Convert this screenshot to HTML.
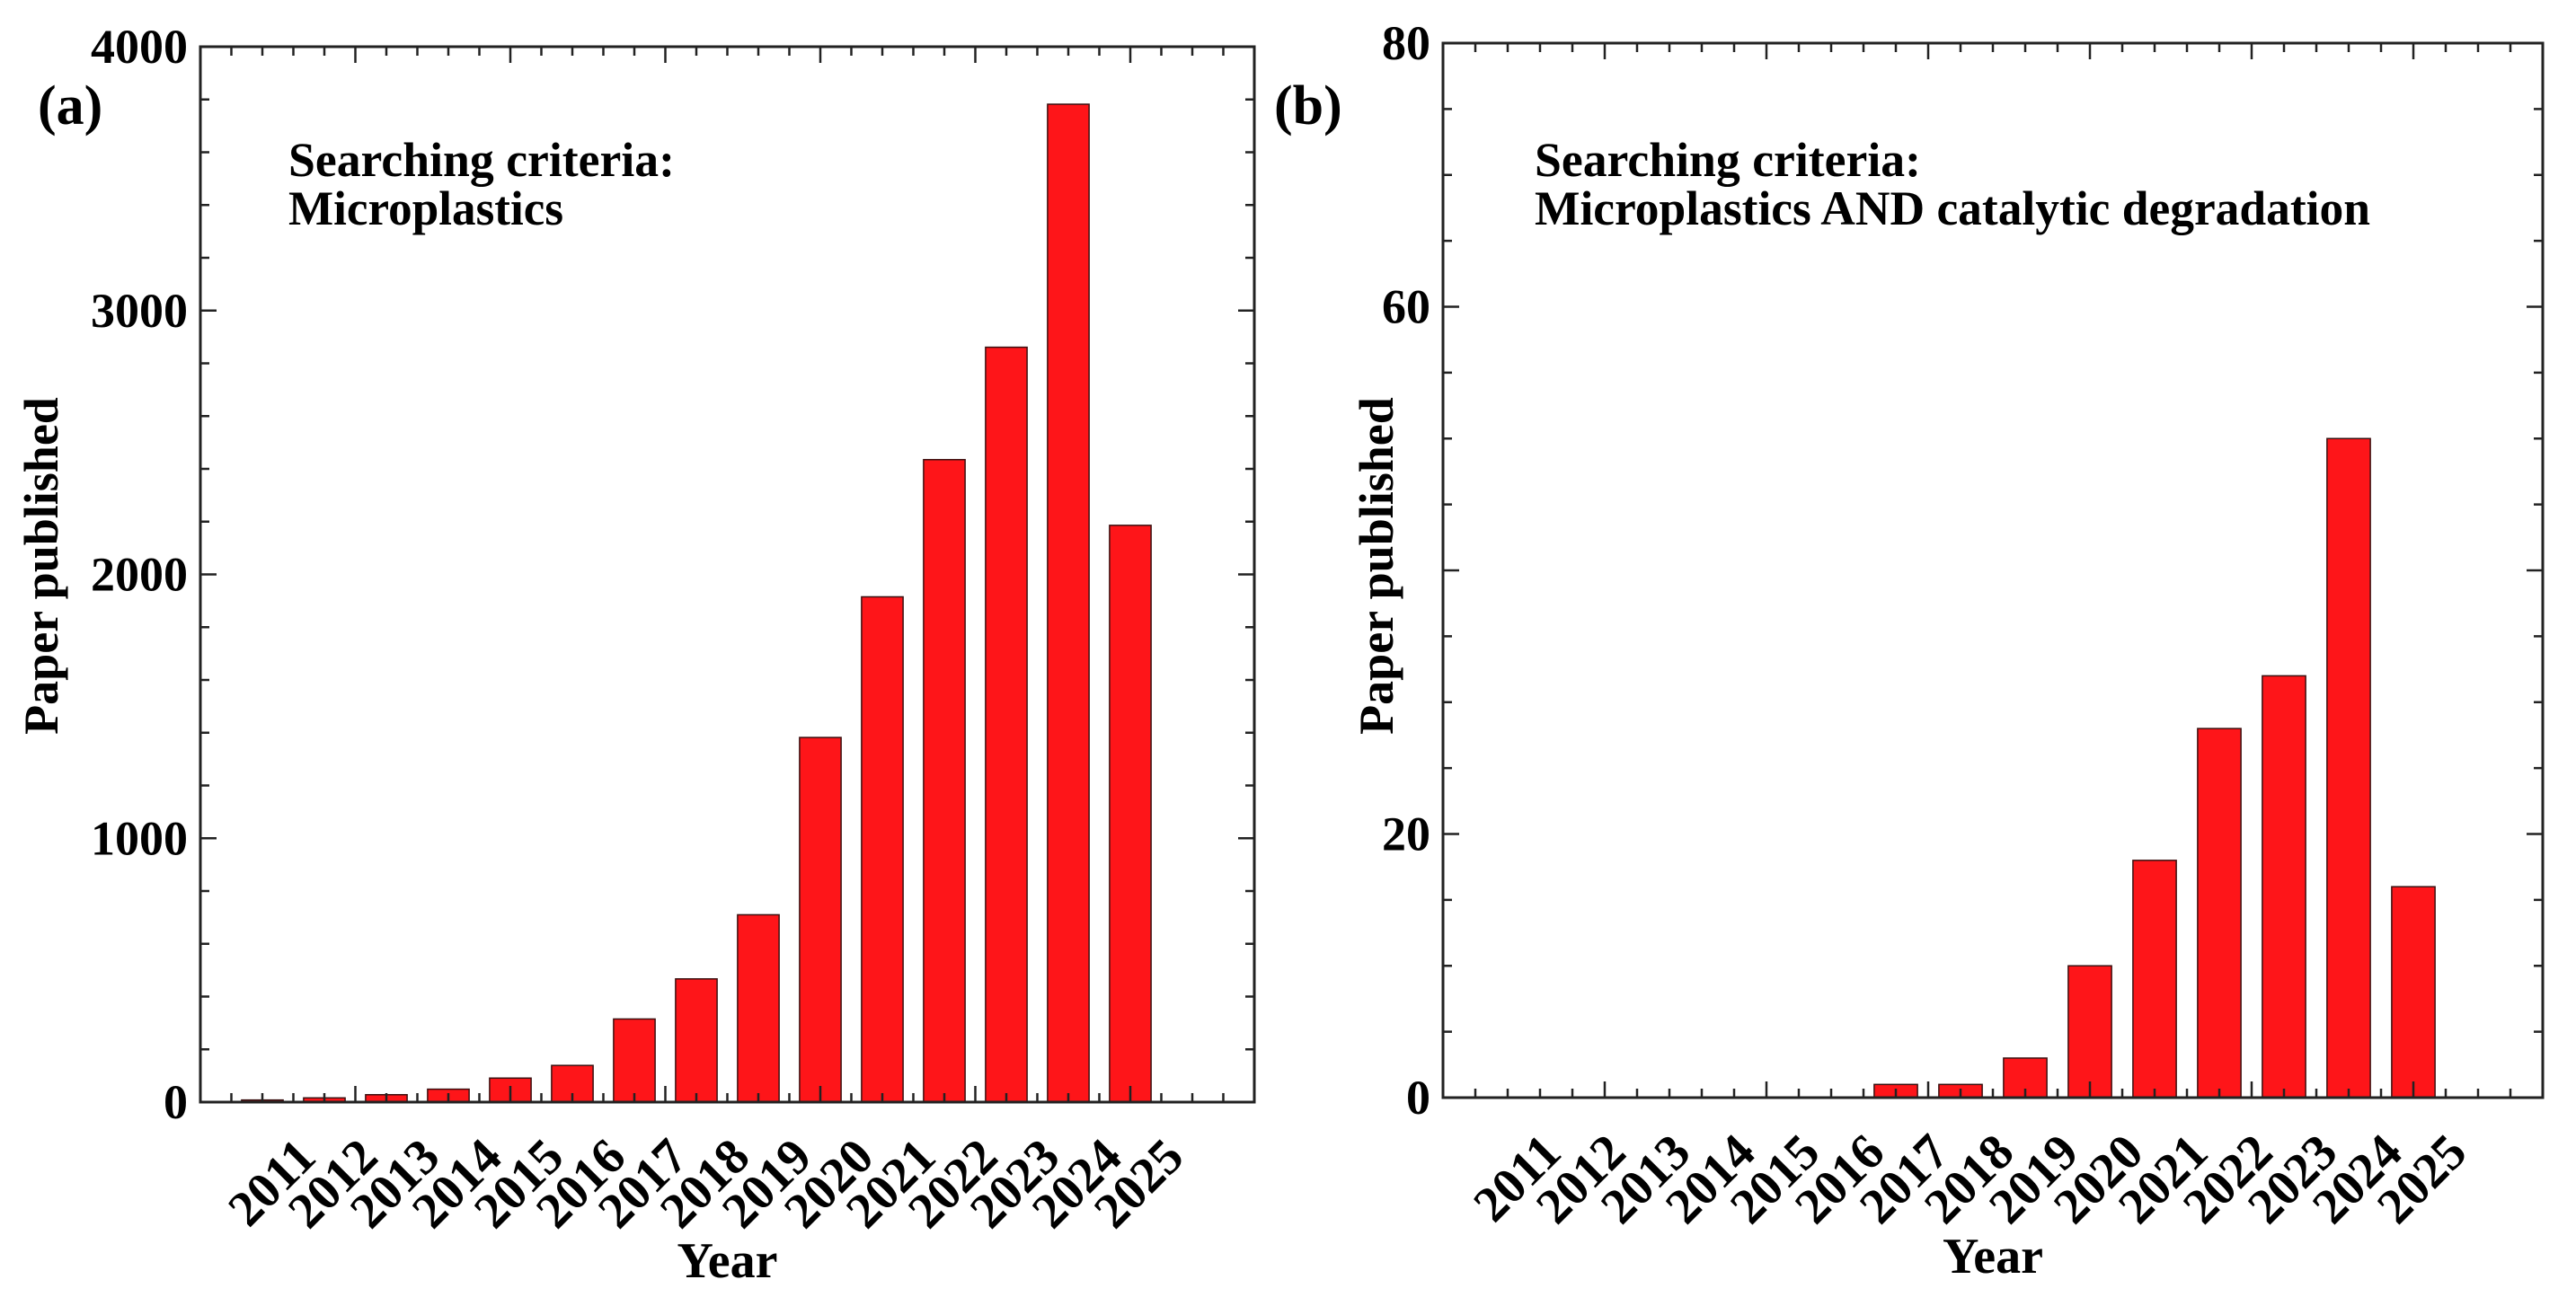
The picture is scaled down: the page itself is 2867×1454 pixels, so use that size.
<!DOCTYPE html>
<html><head><meta charset="utf-8"><style>
html,body{margin:0;padding:0;background:#fff;}
svg{display:block;}
text{font-family:"Liberation Serif",serif;font-weight:bold;fill:#000;}
</style></head><body>
<svg id="fig" width="2867" height="1454" viewBox="0 0 2867 1454" xmlns="http://www.w3.org/2000/svg"></svg>
<script>
const years = ["2011","2012","2013","2014","2015","2016","2017","2018","2019","2020","2021","2022","2023","2024","2025"];
const papersA = [8,16,28,49,91,139,315,467,710,1382,1915,2435,2861,3782,2186];
const papersB = [0,0,0,0,0,0,1,1,3,10,18,28,32,50,16];
const yTicksA = [0,1000,2000,3000,4000];
const yTicksB = [0,20,60,80];

const NS = "http://www.w3.org/2000/svg";
const svg = document.getElementById('fig');
function mk(tag, attrs, parent){const e=document.createElementNS(NS,tag);for(const k in attrs)e.setAttribute(k,attrs[k]);(parent||svg).appendChild(e);return e;}

function panel(cfg){
  const g = mk('g',{});
  
  
  const L=cfg.left,R=cfg.right,T=cfg.top,B=cfg.bottom;
  const xs = v => L + (R-L)*v/17;
  const ys = v => B - (B-T)*v/cfg.ymax;
  const bw = (R-L)/17*0.67;
  cfg.data.forEach((v,i)=>{
    const cx = xs(i+1);
    const r = mk('rect',{x:cx-bw/2,y:ys(v),width:bw,height:Math.max(B-ys(v),0),fill:'#fe1519',stroke:'#3a1010','stroke-width':1.5},g);
    
    
  });
  for(let k=0;k<=34;k++){
    const x = xs(k*0.5); const major = (k%5===0); const len = major?18:10;
    mk('line',{x1:x,y1:B,x2:x,y2:B-len,stroke:'#222','stroke-width':2.5},g);
    mk('line',{x1:x,y1:T,x2:x,y2:T+len,stroke:'#222','stroke-width':2.5},g);
  }
  for(let v=0; v<=cfg.ymax+1e-9; v+=cfg.minor){
    const y = ys(v); const major = Math.abs(v/cfg.major-Math.round(v/cfg.major))<1e-6; const len = major?18:10;
    mk('line',{x1:L,y1:y,x2:L+len,y2:y,stroke:'#222','stroke-width':2.5},g);
    mk('line',{x1:R,y1:y,x2:R-len,y2:y,stroke:'#222','stroke-width':2.5},g);
  }
  const f = mk('rect',{x:L,y:T,width:R-L,height:B-T,fill:'none',stroke:'#222','stroke-width':3},g);
  
  
  cfg.yticks.forEach(v=>{
    const t = mk('text',{x:L-14,y:ys(v)+18,'text-anchor':'end','font-size':54},g);
    t.textContent = v;
    
    
  });
  years.forEach((yr,i)=>{
    const ax = xs(i+1)+62, ay = B+64;
    const t = mk('text',{x:ax,y:ay,'text-anchor':'end','font-size':56,transform:`rotate(-45 ${ax} ${ay})`},g);
    t.textContent = yr;
    
    
  });
  const yt = mk('text',{x:cfg.ylabX,y:630,'text-anchor':'middle','font-size':54,transform:`rotate(-90 ${cfg.ylabX} 630)`},g);
  yt.textContent = 'Paper published';
  
  
  const xt = mk('text',{x:(L+R)/2,y:B+195,'text-anchor':'middle','font-size':56},g);
  xt.textContent = 'Year';
  
  
  const pl = mk('text',{x:cfg.letterX,y:138,'font-size':62},g);
  pl.textContent = cfg.letter;
  
  
  const a1 = mk('text',{x:cfg.annX,y:196,'font-size':54,textLength:430,lengthAdjust:'spacingAndGlyphs'},g);
  a1.textContent = 'Searching criteria:';
  
  
  const a2 = mk('text',{x:cfg.annX,y:250,'font-size':54,textLength:cfg.ann2W,lengthAdjust:'spacingAndGlyphs'},g);
  a2.textContent = cfg.ann2;
  
  
}

panel({name:'panel-a',left:223,right:1396,top:52,bottom:1227,ymax:4000,minor:200,major:1000,data:papersA,yticks:yTicksA,ylabX:64,letter:'(a)',letterX:42,annX:321,ann2:'Microplastics',ann2W:306});
panel({name:'panel-b',left:1606,right:2830,top:48,bottom:1222,ymax:80,minor:5,major:20,data:papersB,yticks:yTicksB,ylabX:1550,letter:'(b)',letterX:1418,annX:1708,ann2:'Microplastics AND catalytic degradation',ann2W:930});
</script>
</body></html>
